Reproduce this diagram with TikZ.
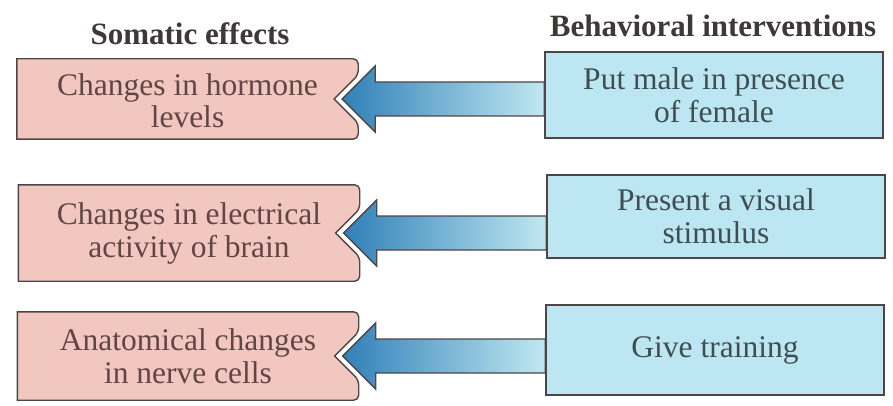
\documentclass[tikz,border=0pt]{standalone}
\usepackage{fontspec}
\setmainfont{Liberation Serif}
\usetikzlibrary{calc,backgrounds}

\definecolor{pinkfill}{RGB}{242,199,191}
\definecolor{bluefill}{RGB}{188,231,242}
\definecolor{edge}{RGB}{78,70,70}
\definecolor{ink}{RGB}{96,70,70}
\definecolor{inkblue}{RGB}{62,78,82}
\definecolor{headink}{RGB}{62,56,56}
\definecolor{arrowdark}{RGB}{48,128,184}
\definecolor{arrowlight}{RGB}{192,232,242}

\tikzset{
  boxtext/.style={align=center, inner sep=0pt, text=ink,
    font=\fontsize{31.5}{33}\selectfont},
  heading/.style={inner sep=0pt, text=headink,
    font=\fontsize{31}{33}\selectfont\bfseries},
  effectbox/.style={boxtext, rectangle, minimum width=341pt, minimum height=#1},
  actionbox/.style={boxtext, text=inkblue, rectangle, draw=edge, line width=1.4pt,
    fill=bluefill, minimum width=338pt, minimum height=#1},
  effectshape/.style={draw=edge, line width=1.4pt, fill=pinkfill},
  bigarrow/.style={draw=edge, line width=1.4pt,
    left color=arrowdark, right color=arrowlight},
}

% notched outline of an effect box
\newcommand\notchedbox[1]{%
  \path[effectshape] (#1.north west)
    {[rounded corners=5pt] -- (#1.north east) -- ([yshift=24pt]#1.east)}
    -- ([xshift=-24pt]#1.east)
    {[rounded corners=5pt] -- ([yshift=-24pt]#1.east) -- (#1.south east)}
    -- (#1.south west) -- cycle;}

% block arrow from an action box into the notch of an effect box
\newcommand\blockarrow[2]{%
  \coordinate (tip-#2) at ($(#2.east)+(-16,0)$);
  \coordinate (head-#2) at ($(tip-#2)+(33,0)$);
  \path[bigarrow] (tip-#2) -- ([yshift=33pt]head-#2) -- ([yshift=17pt]head-#2)
    -- ([yshift=17pt]head-#2 -| #1.west) -- ([yshift=-17pt]head-#2 -| #1.west)
    -- ([yshift=-17pt]head-#2) -- ([yshift=-33pt]head-#2) -- cycle;}

\begin{document}
\begin{tikzpicture}[x=1pt, y=-1pt]
  \useasboundingbox (0,0) rectangle (893,406);

  % column headings
  \node[heading] (hsom) at (190,34) {Somatic effects};
  \node[heading] (hbeh) at (713,26) {Behavioral interventions};

  % somatic effects
  \node[effectbox=80pt, text depth=0pt] (p1) at (187.5,99)
    {\raisebox{-3pt}{\shortstack{Changes in hormone\\[1pt]levels}}};
  \node[effectbox=96pt] (p2) at (189,233) {Changes in electrical\\activity of brain};
  \node[effectbox=88pt] (p3) at (188,356) {Anatomical changes\\in nerve cells};

  % behavioral interventions
  \node[actionbox=86pt] (b1) at (714,95) {Put male in presence\\of female};
  \node[actionbox=83pt] (b2) at (716,216.5) {Present a visual\\stimulus};
  \node[actionbox=90pt] (b3) at (715,350) {\raisebox{-3pt}{Give training}};

  \begin{scope}[on background layer]
    \notchedbox{p1}
    \notchedbox{p2}
    \notchedbox{p3}
    \blockarrow{b1}{p1}
    \blockarrow{b2}{p2}
    \blockarrow{b3}{p3}
  \end{scope}
\end{tikzpicture}
\end{document}
